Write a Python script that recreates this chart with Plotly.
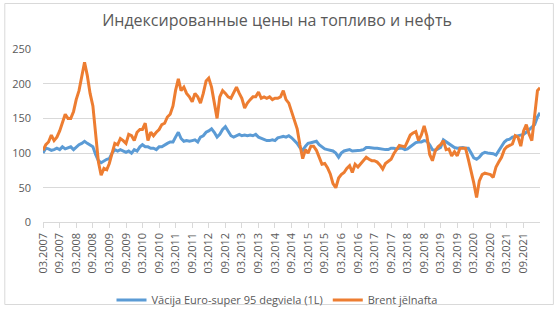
import pandas as pd
import plotly.graph_objects as go

TITLE = "Индексированные цены на топливо и нефть"
NAME_FUEL = "Vācija Euro-super 95 degviela (1L)"
NAME_BRENT = "Brent jēlnafta"

# monthly observations, 03.2007 .. 03.2022
months = pd.date_range("2007-03-01", periods=181, freq="MS")

fuel = [
    100, 107, 106, 104, 105, 107, 105, 109, 106, 107, 109, 105,
    109, 112, 114, 117, 114, 112, 109, 98, 89, 86, 89, 91,
    92, 100, 105, 103, 105, 103, 101, 103, 100, 105, 103, 109,
    112, 109, 109, 107, 107, 105, 109, 109, 112, 114, 116, 116,
    123, 130, 121, 117, 118, 117, 118, 119, 116, 123, 125, 130,
    132, 135, 130, 123, 127, 134, 138, 132, 125, 123, 125, 127,
    125, 126, 125, 126, 125, 127, 123, 121, 119, 118, 118, 119,
    118, 122, 123, 124, 123, 125, 122, 118, 114, 108, 104, 110,
    114, 115, 116, 117, 112, 109, 106, 105, 104, 103, 100, 94,
    100, 103, 104, 105, 103, 103, 103, 104, 105, 108, 108, 107,
    107, 107, 106, 105, 105, 105, 107, 107, 106, 107, 107, 105,
    106, 109, 112, 115, 116, 116, 118, 117, 112, 105, 104, 106,
    108, 119, 116, 113, 110, 108, 107, 108, 108, 107, 107, 100,
    93, 91, 94, 99, 101, 100, 100, 99, 97, 103, 109, 116,
    119, 120, 123, 124, 125, 126, 127, 130, 134, 138, 141, 152,
    158,
]

brent = [
    104, 112, 116, 126, 118, 123, 132, 145, 156, 150, 150, 160,
    177, 190, 212, 231, 212, 186, 168, 132, 87, 68, 78, 76,
    85, 100, 114, 112, 121, 118, 114, 127, 125, 118, 130, 134,
    134, 143, 118, 130, 125, 130, 134, 141, 143, 152, 156, 168,
    190, 207, 190, 195, 186, 181, 174, 186, 181, 172, 186, 204,
    208, 195, 172, 150, 181, 190, 186, 181, 179, 186, 195, 186,
    179, 165, 172, 177, 181, 181, 188, 179, 181, 179, 181, 177,
    179, 179, 181, 190, 177, 172, 159, 150, 135, 112, 92, 105,
    100, 110, 110, 104, 93, 84, 85, 79, 70, 56, 50, 64,
    69, 72, 78, 82, 72, 84, 80, 85, 90, 94, 91, 89,
    89, 87, 83, 77, 85, 88, 91, 99, 106, 111, 110, 109,
    117, 126, 129, 131, 118, 126, 139, 125, 98, 89, 103, 109,
    112, 118, 105, 106, 96, 102, 96, 107, 107, 107, 91, 75,
    57, 36, 60, 69, 71, 70, 69, 65, 80, 87, 94, 105,
    109, 111, 113, 125, 123, 110, 132, 141, 127, 118, 150, 190,
    194,
]

x_tick_dates = pd.date_range("2007-03-01", "2021-09-01", freq="6MS")
x_tick_labels = [d.strftime("%m.%Y") for d in x_tick_dates]
y_ticks = [0, 50, 100, 150, 200, 250]

GRID = "#d9d9d9"
TEXT = "#595959"
FONT = "Open Sans"

fig = go.Figure()
fig.add_trace(go.Scatter(x=months, y=fuel, mode="lines", name=NAME_FUEL,
                         line=dict(color="#5b9bd5", width=3)))
fig.add_trace(go.Scatter(x=months, y=brent, mode="lines", name=NAME_BRENT,
                         line=dict(color="#ed7d31", width=3)))

L, R, T, B = 39, 14, 49, 88
W, H = 554, 322
pw, ph = W - L - R, H - T - B

fig.update_layout(
    width=W, height=H,
    margin=dict(l=L, r=R, t=T, b=B),
    paper_bgcolor="white", plot_bgcolor="white",
    font=dict(family=FONT, color=TEXT, size=11),
    title=dict(text=TITLE, x=0.5, xanchor="center", y=1 - 20 / H,
               yanchor="middle", font=dict(size=16, color=TEXT, family=FONT)),
    showlegend=True,
    legend=dict(orientation="h", x=0.5, xanchor="center", xref="container",
                y=1 - 300 / H, yref="container", yanchor="middle",
                font=dict(size=11, color=TEXT), itemwidth=30,
                bgcolor="rgba(0,0,0,0)"),
    xaxis=dict(
        range=[months[0], months[-1]],
        tickvals=list(x_tick_dates), ticktext=x_tick_labels,
        tickangle=-90, ticks="outside", ticklen=5, tickcolor=GRID,
        showline=True, linecolor=GRID, linewidth=1,
        showgrid=False, zeroline=False,
        tickfont=dict(size=11, color=TEXT),
    ),
    yaxis=dict(
        range=[0, 250], tickvals=y_ticks,
        showgrid=True, gridcolor=GRID, gridwidth=1,
        zeroline=False, showline=False, ticks="",
        ticklabelstandoff=11,
        tickfont=dict(size=11, color=TEXT),
    ),
    shapes=[dict(type="rect", xref="paper", yref="paper",
                 x0=(0.5 - L) / pw, x1=(W - 0.5 - L) / pw,
                 y0=-(B - 0.5) / ph, y1=1 + (T - 0.5) / ph,
                 line=dict(color=GRID, width=1), fillcolor="rgba(0,0,0,0)",
                 layer="below")],
)

fig.write_html("out.html")
